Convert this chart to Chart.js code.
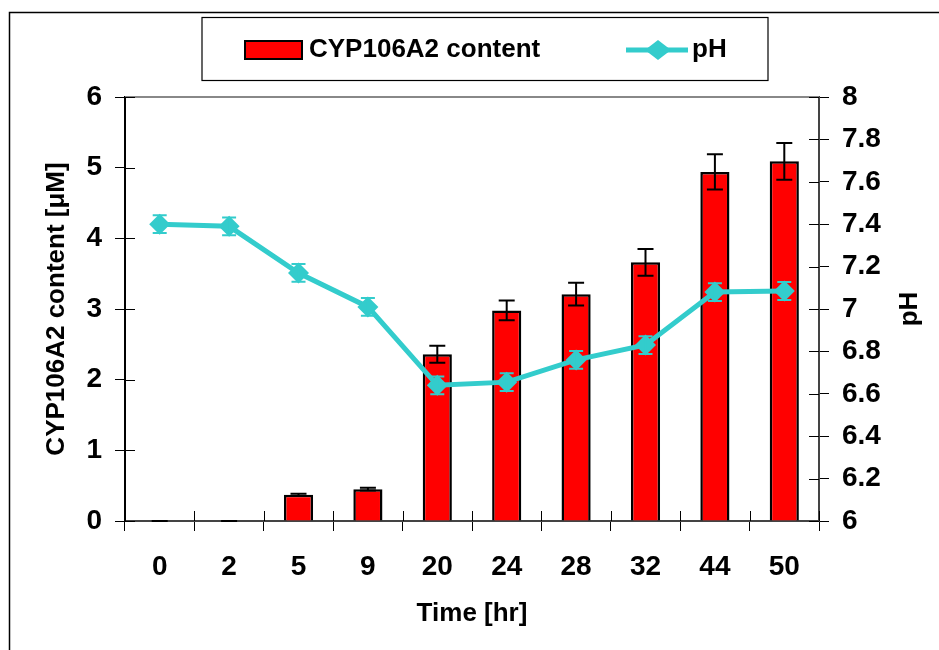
<!DOCTYPE html>
<html>
<head>
<meta charset="utf-8">
<title>CYP106A2 content and pH</title>
<script src="https://cdn.jsdelivr.net/npm/chart.js@4.4.1/dist/chart.umd.min.js"></script>
<style>
  html, body { margin: 0; padding: 0; background: #fff; }
  canvas { display: block; }
</style>
</head>
<body>
<canvas id="cypChart" width="939" height="650"></canvas>
<script>
'use strict';

// sampling times (hr)
var timeLabels = ['0', '2', '5', '9', '20', '24', '28', '32', '44', '50'];

// CYP106A2 content (uM) and its standard deviation
var cypContent = [0, 0, 0.37, 0.45, 2.36, 2.98, 3.21, 3.66, 4.94, 5.09];
var cypError = [0, 0, 0.015, 0.02, 0.12, 0.14, 0.16, 0.19, 0.25, 0.26];

// pH of the culture and its standard deviation
var phValues = [7.40, 7.39, 7.17, 7.01, 6.64, 6.655, 6.76, 6.83, 7.08, 7.085];
var phError = [0.042, 0.042, 0.042, 0.042, 0.042, 0.042, 0.042, 0.042, 0.042, 0.042];

// axis ranges
var contentAxis = { min: 0, max: 6, step: 1 };
var phAxis = { min: 6, max: 8, step: 0.2 };

var FONT = '"Liberation Sans", Arial, Helvetica, sans-serif';
var RED = '#ff0000';
var CYAN = '#33cccc';

(function () {
  var ctx = document.getElementById('cypChart').getContext('2d');

  // vertical error bars, drawn right after their own dataset
  var errorBars = {
    id: 'errorBars',
    afterDatasetDraw: function (chart, args) {
      var ds = chart.data.datasets[args.index];
      if (!ds.errors) return;
      var scale = chart.scales[args.meta.yAxisID];
      var cap = ds.errorCap;
      var c = chart.ctx;
      c.save();
      c.strokeStyle = ds.errorColor;
      c.lineWidth = 2;
      args.meta.data.forEach(function (el, i) {
        var hi = scale.getPixelForValue(ds.data[i] + ds.errors[i]);
        var lo = scale.getPixelForValue(ds.data[i] - ds.errors[i]);
        c.beginPath();
        c.moveTo(el.x, hi);
        c.lineTo(el.x, lo);
        c.moveTo(el.x - cap, hi);
        c.lineTo(el.x + cap, hi);
        c.moveTo(el.x - cap, lo);
        c.lineTo(el.x + cap, lo);
        c.stroke();
      });
      c.restore();
    }
  };

  // frame, boxed legend, inner tick marks and the rotated pH title
  var decorations = {
    id: 'decorations',
    afterDraw: function (chart) {
      var c = chart.ctx;
      var area = chart.chartArea;
      var x = chart.scales.x, y = chart.scales.y, y1 = chart.scales.y1;
      var i;
      c.save();

      // outer frame (left and top edges)
      c.strokeStyle = '#000';
      c.lineWidth = 1.5;
      c.beginPath();
      c.moveTo(9.5, chart.height);
      c.lineTo(9.5, 12.5);
      c.lineTo(chart.width, 12.5);
      c.stroke();

      // top edge of the plot area
      c.strokeStyle = '#888';
      c.lineWidth = 2;
      c.beginPath();
      c.moveTo(area.left, area.top);
      c.lineTo(area.right, area.top);
      c.stroke();

      // tick marks crossing into the plot area
      c.strokeStyle = '#000';
      c.lineWidth = 1;
      c.beginPath();
      y.ticks.forEach(function (t, k) {
        var py = Math.round(y.getPixelForTick(k)) + 0.5;
        c.moveTo(area.left, py);
        c.lineTo(area.left + 10, py);
      });
      y1.ticks.forEach(function (t, k) {
        var py = Math.round(y1.getPixelForTick(k)) + 0.5;
        c.moveTo(area.right, py);
        c.lineTo(area.right - 10, py);
      });
      for (i = 0; i <= timeLabels.length; i++) {
        var px = Math.round(x.getPixelForValue(i - 0.5)) + 0.5;
        c.moveTo(px, area.bottom);
        c.lineTo(px, area.bottom - 10);
      }
      c.stroke();

      // legend box
      c.lineWidth = 1.2;
      c.strokeRect(202, 17.5, 566, 63);

      var bars = chart.data.datasets[0];
      var line = chart.data.datasets[1];
      var ly = 50;

      c.fillStyle = bars.backgroundColor;
      c.fillRect(245, 41, 57, 18);
      c.lineWidth = 2;
      c.strokeStyle = bars.borderColor;
      c.strokeRect(245, 41, 57, 18);

      c.strokeStyle = line.borderColor;
      c.lineWidth = 5;
      c.beginPath();
      c.moveTo(626, ly);
      c.lineTo(688, ly);
      c.stroke();
      c.fillStyle = line.pointBackgroundColor;
      c.beginPath();
      c.moveTo(645, ly);
      c.lineTo(658, ly - 10);
      c.lineTo(671, ly);
      c.lineTo(658, ly + 10);
      c.closePath();
      c.fill();

      c.fillStyle = '#000';
      c.font = 'bold 26px ' + FONT;
      c.textAlign = 'left';
      c.textBaseline = 'middle';
      c.fillText(bars.label, 309, ly);
      c.fillText(line.label, 692, ly);

      // right axis title, reading bottom to top
      c.translate(910, (area.top + area.bottom) / 2);
      c.rotate(-Math.PI / 2);
      c.textAlign = 'center';
      c.fillText('pH', 0, 0);

      c.restore();
    }
  };

  var tickFont = { family: FONT, size: 28, weight: 'bold' };
  var titleFont = { family: FONT, size: 26, weight: 'bold' };

  var cypChart = new Chart(ctx, {
    type: 'bar',
    data: {
      labels: timeLabels,
      datasets: [
        {
          type: 'bar',
          label: 'CYP106A2 content',
          data: cypContent,
          errors: cypError,
          errorColor: '#000',
          errorCap: 8,
          yAxisID: 'y',
          backgroundColor: RED,
          borderColor: '#000',
          borderWidth: 2.5,
          barPercentage: 0.84,
          categoryPercentage: 0.5,
          order: 2
        },
        {
          type: 'line',
          label: 'pH',
          data: phValues,
          errors: phError,
          errorColor: CYAN,
          errorCap: 7,
          yAxisID: 'y1',
          borderColor: CYAN,
          borderWidth: 5,
          pointStyle: 'rectRot',
          pointRadius: 10.5,
          pointBackgroundColor: CYAN,
          pointBorderColor: CYAN,
          pointBorderWidth: 0,
          tension: 0,
          order: 1
        }
      ]
    },
    options: {
      responsive: false,
      animation: false,
      events: [],
      layout: { padding: { top: 97, left: 0, right: 0, bottom: 0 } },
      plugins: {
        legend: { display: false },
        tooltip: { enabled: false }
      },
      scales: {
        x: {
          grid: { offset: true, drawOnChartArea: false, tickLength: 10, color: '#000' },
          border: { color: '#444', width: 2 },
          ticks: { color: '#000', font: tickFont, padding: 19, maxRotation: 0 },
          title: {
            display: true,
            text: 'Time [hr]',
            color: '#000',
            font: titleFont,
            padding: { top: 0, bottom: 21 }
          },
          afterFit: function (s) { s.height = 129; }
        },
        y: {
          position: 'left',
          min: contentAxis.min,
          max: contentAxis.max,
          grid: { drawOnChartArea: false, tickLength: 10, color: '#000' },
          border: { color: '#000', width: 2 },
          ticks: { stepSize: contentAxis.step, color: '#000', font: tickFont, padding: 13 },
          title: {
            display: true,
            text: 'CYP106A2 content [μM]',
            color: '#000',
            font: titleFont,
            padding: { top: 41, bottom: 0 }
          },
          afterFit: function (s) { s.width = 125; }
        },
        y1: {
          position: 'right',
          min: phAxis.min,
          max: phAxis.max,
          grid: { drawOnChartArea: false, tickLength: 10, color: '#000' },
          border: { color: '#444', width: 2 },
          ticks: {
            stepSize: phAxis.step,
            color: '#000',
            font: tickFont,
            padding: 13,
            callback: function (v) { return String(Math.round(v * 10) / 10); }
          },
          afterFit: function (s) { s.width = 120; }
        }
      }
    },
    plugins: [errorBars, decorations]
  });
})();
</script>
</body>
</html>
